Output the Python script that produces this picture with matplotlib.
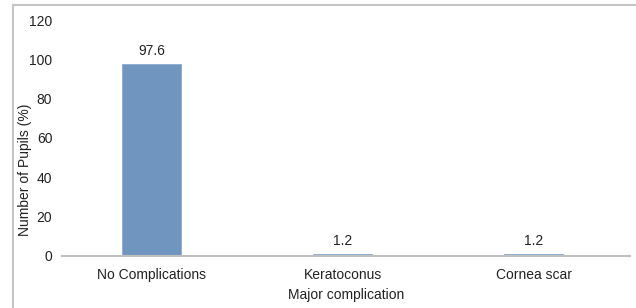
import matplotlib
matplotlib.use('Agg')
import matplotlib.pyplot as plt
from matplotlib.patches import Rectangle

# data
categories = ['No Complications', 'Keratoconus', 'Cornea scar']
values = [97.6, 1.2, 1.2]
yticks = [0, 20, 40, 60, 80, 100, 120]

plt.rcParams['font.family'] = ['Liberation Sans Narrow', 'Liberation Sans', 'DejaVu Sans']
FS = 10

fig = plt.figure(figsize=(6.36, 3.08), dpi=100)
ax = fig.add_axes([0.0975, 0.169, 0.893, 0.766])

x = range(len(categories))
ax.bar(x, values, width=0.31, color='#7096c0', edgecolor='#8aaad0', linewidth=0.6, zorder=2)
for xi, v in zip(x, values):
    ax.text(xi, v + 3, f'{v}', ha='center', va='bottom', fontsize=FS, color='#222222')

ax.set_xlim(-0.469, 2.505)
ax.set_ylim(0, 120)
ax.set_yticks(yticks)
ax.set_xticks(list(x))
ax.set_xticklabels(categories)
ax.tick_params(axis='both', length=0, labelsize=FS, colors='#222222')
ax.tick_params(axis='y', pad=7)
ax.tick_params(axis='x', pad=9)
for s in ['top', 'right', 'left']:
    ax.spines[s].set_visible(False)
ax.spines['bottom'].set_color('#bfbfbf')
ax.spines['bottom'].set_linewidth(1.5)

ax.set_xlabel('Major complication', fontsize=FS, color='#222222', labelpad=4)
ax.set_ylabel('Number of Pupils (%)', fontsize=FS, color='#222222')
ax.yaxis.set_label_coords(-0.052, 0.365)

# outer frame (only left and top edges visible in the image)
fig.patches.append(Rectangle((12.5 / 636, -0.1), 1.2, 1.1 - 5.5 / 308,
                             transform=fig.transFigure, fill=False,
                             edgecolor='#c4c4c4', linewidth=1.5))

fig.savefig('out.png', dpi=100)
